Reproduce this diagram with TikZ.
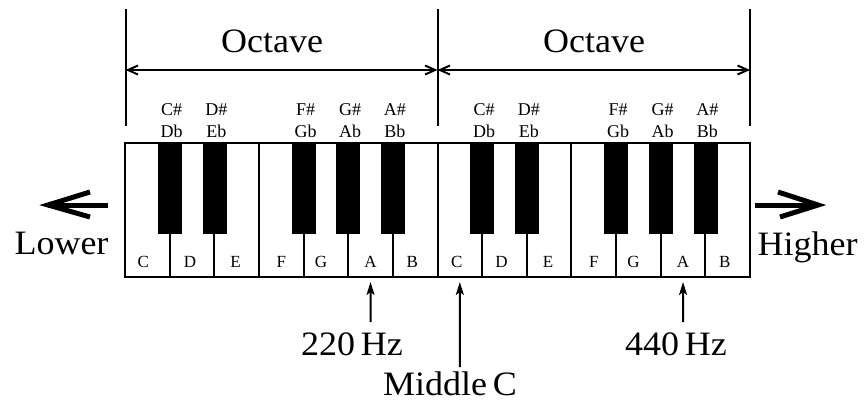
\documentclass[tikz,border=0pt]{standalone}
\usepackage{fontspec}
\setmainfont{Liberation Serif}
\usetikzlibrary{arrows.meta}
\begin{document}
\begin{tikzpicture}[x=1pt,y=-1pt,
  whitekey/.style={draw=black,line width=2pt,fill=white,minimum width=44.64pt,minimum height=134pt,inner sep=0pt,outer sep=0pt,anchor=north west},
  blackkey/.style={draw=black,fill=black,line width=0.5pt,minimum width=23pt,minimum height=90pt,inner sep=0pt,outer sep=0pt,anchor=north},
  keylbl/.style={font=\fontsize{17}{17}\selectfont,anchor=base,inner sep=0pt},
  sharplbl/.style={font=\fontsize{18}{18}\selectfont,anchor=base,inner sep=0pt},
  biglbl/.style={font=\fontsize{36}{36}\selectfont,anchor=base,inner sep=0pt,yscale=0.95},
  bar/.style={line width=2pt},
  octarrow/.style={line width=2pt,{Straight Barb[length=10pt,width=9pt]}-{Straight Barb[length=10pt,width=9pt]}},
  thick arrow/.style={line width=5pt},
  hzarrow/.style={line width=2pt,-{Stealth[length=13pt,width=8pt,inset=3pt]},shorten >=5pt}
]
\useasboundingbox (0,0) rectangle (866,402);
% white keys
\foreach \i in {0,...,13}{
  \node[whitekey] (w\i) at ({125+\i*44.643},143) {};
}
% black keys (at boundaries)
\foreach \b in {1,2,4,5,6,8,9,11,12,13}{
  \node[blackkey] (b\b) at ({125+\b*44.643},143) {};
}
% white key letters
\foreach \i/\n/\o in {0/C/-4,1/D/-2,2/E/-1,3/F/0,4/G/-5,5/A/0,6/B/-3,7/C/-3,8/D/-3,9/E/-1,10/F/0,11/G/-5,12/A/0,13/B/-3}{
  \node[keylbl] (k\i) at ({125+(\i+0.5)*44.643+\o},267) {\n};
}
% sharp labels
\foreach \b/\s/\f in {1/C\#/Db,2/D\#/Eb,4/F\#/Gb,5/G\#/Ab,6/A\#/Bb,8/C\#/Db,9/D\#/Eb,11/F\#/Gb,12/G\#/Ab,13/A\#/Bb}{
  \node[sharplbl] (s\b) at ({125+\b*44.643+2},115) {\s};
  \node[sharplbl] (f\b) at ({125+\b*44.643+2},137) {\f};
}
% octave bars
\coordinate (t0) at (125.5,9);  \coordinate (m0) at (125.5,70); \coordinate (e0) at (125.5,126);
\coordinate (t1) at (437.5,9);  \coordinate (m1) at (437.5,70); \coordinate (e1) at (437.5,126);
\coordinate (t2) at (750,9);    \coordinate (m2) at (750,70);   \coordinate (e2) at (750,126);
\draw[bar] (t0) -- (e0);
\draw[bar] (t1) -- (e1);
\draw[bar] (t2) -- (e2);
\draw[octarrow] (m0) -- (m1);
\draw[octarrow] (m1) -- (m2);
\node[biglbl] (oct1) at (272,52) {Octave};
\node[biglbl] (oct2) at (594,52) {Octave};
% lower / higher
\coordinate (lt) at (48,205); \coordinate (lb) at (108,205);
\coordinate (lu) at (90,192); \coordinate (ld) at (90,217);
\draw[thick arrow] (lb) -- (lt);
\draw[thick arrow] (lu) -- (lt) -- (ld);
\coordinate (ht) at (818,205); \coordinate (hb) at (755,205);
\coordinate (hu) at (778,192); \coordinate (hd) at (780,217);
\draw[thick arrow] (hb) -- (ht);
\draw[thick arrow] (hu) -- (ht) -- (hd);
\node[biglbl] (lower) at (61.5,254) {Lower};
\node[biglbl] (higher) at (807.5,255) {Higher};
% bottom arrows
\coordinate (a220) at ({125+5.5*44.643},322);
\coordinate (amc) at ({125+7.5*44.643},367);
\coordinate (a440) at ({125+12.5*44.643},322);
\draw[hzarrow] (a220) -- (w5.south);
\draw[hzarrow] (amc) -- (w7.south);
\draw[hzarrow] (a440) -- (w12.south);
\node[biglbl] (hz220) at (352,355) {220\,Hz};
\node[biglbl] (midc) at (450,395) {Middle\,C};
\node[biglbl] (hz440) at (676,355) {440\,Hz};
\end{tikzpicture}
\end{document}
